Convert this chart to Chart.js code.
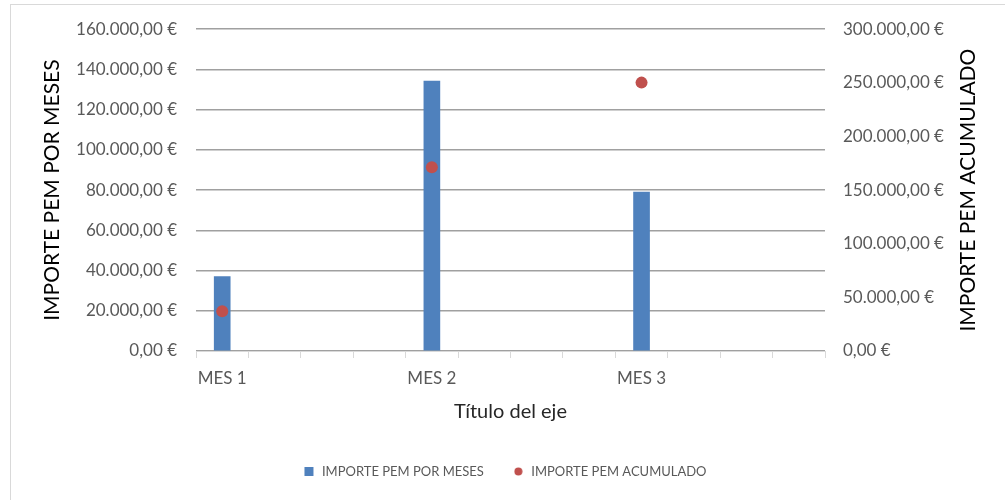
<!DOCTYPE html>
<html>
<head>
<meta charset="utf-8">
<script src="https://cdn.jsdelivr.net/npm/chart.js@4"></script>
<style>
  html, body { margin: 0; padding: 0; background: #fff; }
  #wrap { position: relative; width: 1005px; height: 500px; }
  #frame { position: absolute; left: 10px; top: 4px; width: 1000px; height: 500px;
           border-left: 1px solid #d9d9d9; border-top: 1px solid #d9d9d9; }
  canvas { position: absolute; left: 0; top: 0; }
</style>
</head>
<body>
<div id="wrap">
  <div id="frame"></div>
  <canvas id="chart" width="1005" height="500"></canvas>
</div>
<script>
// 12 slots on the category axis, Excel only labels every 4th one
const meses = ['MES 1', '', '', '', 'MES 2', '', '', '', 'MES 3', '', '', ''];
const importeMeses = [37000, null, null, null, 134200, null, null, null, 79000, null, null, null];
const importeAcumulado = [37000, null, null, null, 171200, null, null, null, 250200, null, null, null];

const euro = v => v.toLocaleString('de-DE', {minimumFractionDigits: 2, maximumFractionDigits: 2}) + ' €';

const tickFont = {family: 'Lato', size: 17};
const titleFont = {family: 'Lato', size: 21};

// small red dot for the legend (the default circle comes out too big)
const legendDot = document.createElement('canvas');
legendDot.width = 9;
legendDot.height = 9;
const dctx = legendDot.getContext('2d');
dctx.fillStyle = '#c0504d';
dctx.beginPath();
dctx.arc(4.5, 4.5, 4, 0, Math.PI * 2);
dctx.fill();

// Chart.js turns the right axis title the other way, so draw it here
const rightTitle = {
    id: 'rightTitle',
    afterDraw(chart) {
        const c = chart.ctx;
        const area = chart.chartArea;
        c.save();
        c.translate(968, (area.top + area.bottom) / 2);
        c.rotate(-Math.PI / 2);
        c.fillStyle = '#000';
        c.font = '21px Lato';
        c.textAlign = 'center';
        c.textBaseline = 'middle';
        c.fillText('IMPORTE PEM ACUMULADO', 0, 0);
        c.restore();
    }
};

const ctx = document.getElementById('chart').getContext('2d');
new Chart(ctx, {
    data: {
        labels: meses,
        datasets: [{
            type: 'bar',
            label: 'IMPORTE PEM POR MESES',
            data: importeMeses,
            backgroundColor: '#4f81bd',
            barThickness: 16,
            pointStyle: 'rect',
            yAxisID: 'y',
            order: 2
        }, {
            type: 'line',
            label: 'IMPORTE PEM ACUMULADO',
            data: importeAcumulado,
            showLine: false,
            pointRadius: 6,
            pointStyle: 'circle',
            backgroundColor: '#c0504d',
            borderColor: '#c0504d',
            borderWidth: 0,
            yAxisID: 'y1',
            order: 1
        }]
    },
    plugins: [rightTitle],
    options: {
        responsive: false,
        animation: false,
        layout: {padding: {left: 20, right: 16, top: 19, bottom: 12}},
        plugins: {
            tooltip: {enabled: false},
            legend: {
                position: 'bottom',
                labels: {
                    usePointStyle: true,
                    boxHeight: 9,
                    color: '#595959',
                    font: {family: 'Lato', size: 13},
                    padding: 28,
                    sort: (a, b) => a.datasetIndex - b.datasetIndex,
                    generateLabels: chart => {
                        const items = Chart.defaults.plugins.legend.labels.generateLabels(chart);
                        items.forEach(it => {
                            if (it.datasetIndex === 1) it.pointStyle = legendDot;
                        });
                        return items;
                    }
                }
            }
        },
        scales: {
            x: {
                offset: true,
                grid: {
                    offset: true,
                    drawOnChartArea: false,
                    color: '#d9d9d9',
                    tickLength: 7
                },
                border: {color: '#d9d9d9'},
                ticks: {
                    autoSkip: false,
                    maxRotation: 0,
                    color: '#595959',
                    font: tickFont,
                    padding: 10
                },
                title: {
                    display: true,
                    text: 'Título del eje',
                    color: '#262626',
                    font: {family: 'Lato', size: 20},
                    padding: {top: 0, bottom: 13}
                },
                afterFit: s => { s.height = 86; }
            },
            y: {
                position: 'left',
                min: 0,
                max: 160000,
                grid: {color: '#a0a0a0', lineWidth: 1.5, drawTicks: false},
                border: {display: false},
                ticks: {
                    stepSize: 20000,
                    color: '#595959',
                    font: tickFont,
                    padding: 19,
                    callback: v => euro(v)
                },
                title: {
                    display: true,
                    text: 'IMPORTE PEM POR MESES',
                    color: '#000',
                    font: titleFont,
                    padding: {top: 20, bottom: 0}
                },
                afterFit: s => { s.width = 176; }
            },
            y1: {
                position: 'right',
                min: 0,
                max: 300000,
                grid: {drawOnChartArea: false, drawTicks: false},
                border: {display: false},
                ticks: {
                    stepSize: 50000,
                    color: '#595959',
                    font: tickFont,
                    padding: 18,
                    callback: v => euro(v)
                },
                afterFit: s => { s.width = 164; }
            }
        }
    }
});
</script>
</body>
</html>
